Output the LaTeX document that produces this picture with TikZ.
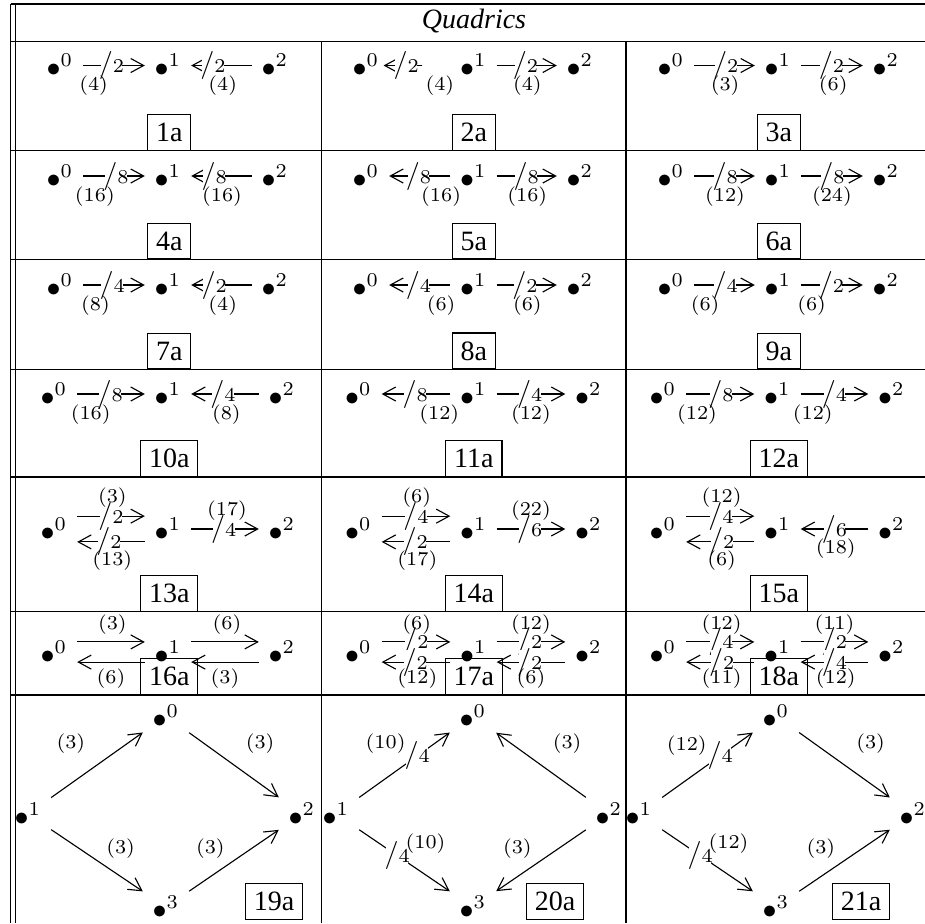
\documentclass[tikz,border=0pt]{standalone}
\usepackage[no-math]{fontspec}
\setmainfont{Liberation Serif}
\usetikzlibrary{arrows.meta}
\newcommand{\slsh}[1]{$/{\scriptstyle #1}$}
\tikzset{
  vtx/.style={inner sep=.3333em},
  arr/.style={-{Straight Barb[length=4.6pt,width=5pt]}},
  brk/.style={fill=white,inner sep=-.6pt},
  lab/.style={font=\scriptsize,inner sep=0pt},
  dlab/.style={font=\scriptsize,inner sep=4pt,auto,midway},
  tag/.style={draw,inner sep=3pt,anchor=south},
}
\begin{document}
\begin{tikzpicture}[x=0.357pt,y=-0.357pt]
\useasboundingbox (0,0) rectangle (925,923);
% table rules
\foreach \y in {4,41.7,150.7,259.3,369.3,477,611.7,695}
  \draw (10.7,\y) -- (925,\y);
\foreach \x in {10.7,15.3}
  \draw (\x,4) -- (\x,923);
\foreach \x in {321.7,626}
  \draw (\x,41.7) -- (\x,923);
\node[anchor=base] (title) at (474,28.3) {\textit{Quadrics}};
% case tags
\foreach \t/\x/\y in {1a/169.3/150.7,2a/473.9/150.7,3a/778.8/150.7,
    4a/169.3/259.3,5a/473.9/259.3,6a/778.8/259.3,
    7a/169.3/369.3,8a/473.9/369.3,9a/778.8/369.3,
    10a/169.3/477,11a/473.9/477,12a/778.8/477,
    13a/169.3/611.7,14a/473.9/611.7,15a/778.8/611.7,
    16a/169.3/695,17a/473.9/695,18a/778.8/695,
    19a/274/920,20a/555/920,21a/861/920}
  \node[tag] (t\t) at (\x,\y) {\t};

% row 1
\node[vtx] (q1n0) at (60,65.5) {$\bullet^{0}$};
\node[vtx] (q1n1) at (168,65.5) {$\bullet^{1}$};
\node[vtx] (q1n2) at (275,65.5) {$\bullet^{2}$};
\draw[arr] (q1n0) -- (q1n1) node[brk,pos=.46]{\slsh{2}} node[lab,below=3.6pt,pos=.17]{$(4)$};
\draw[arr] (q1n2) -- (q1n1) node[brk,pos=.64]{\slsh{2}} node[lab,below=3.6pt,pos=.48]{$(4)$};
\node[vtx] (q2n0) at (366,65.5) {$\bullet^{0}$};
\node[vtx] (q2n1) at (473.5,65.5) {$\bullet^{1}$};
\node[vtx] (q2n2) at (580,65.5) {$\bullet^{2}$};
\draw[arr,shorten <=10pt,shorten >=-2pt] (q2n1) -- (q2n0) node[brk,pos=.72]{\slsh{2}} node[lab,below=3.6pt,pos=.17]{$(4)$};
\draw[arr] (q2n1) -- (q2n2) node[brk,pos=.48]{\slsh{2}} node[lab,below=3.6pt,pos=.51]{$(4)$};
\node[vtx] (q3n0) at (671,65.5) {$\bullet^{0}$};
\node[vtx] (q3n1) at (778,65.5) {$\bullet^{1}$};
\node[vtx] (q3n2) at (886,65.5) {$\bullet^{2}$};
\draw[arr] (q3n0) -- (q3n1) node[brk,pos=.52]{\slsh{2}} node[lab,below=3.6pt,pos=.51]{$(3)$};
\draw[arr] (q3n1) -- (q3n2) node[brk,pos=.49]{\slsh{2}} node[lab,below=3.6pt,pos=.52]{$(6)$};

% row 2
\node[vtx] (q4n0) at (60,176) {$\bullet^{0}$};
\node[vtx] (q4n1) at (168,176) {$\bullet^{1}$};
\node[vtx] (q4n2) at (275,176) {$\bullet^{2}$};
\draw[arr] (q4n0) -- (q4n1) node[brk,pos=.53]{\slsh{8}} node[lab,below=3.6pt,pos=.19]{$(16)$};
\draw[arr] (q4n2) -- (q4n1) node[brk,pos=.62]{\slsh{8}} node[lab,below=3.6pt,pos=.49]{$(16)$};
\node[vtx] (q5n0) at (366,176) {$\bullet^{0}$};
\node[vtx] (q5n1) at (473.5,176) {$\bullet^{1}$};
\node[vtx] (q5n2) at (580,176) {$\bullet^{2}$};
\draw[arr] (q5n1) -- (q5n0) node[brk,pos=.52]{\slsh{8}} node[lab,below=3.6pt,pos=.15]{$(16)$};
\draw[arr] (q5n1) -- (q5n2) node[brk,pos=.49]{\slsh{8}} node[lab,below=3.6pt,pos=.51]{$(16)$};
\node[vtx] (q6n0) at (671,176) {$\bullet^{0}$};
\node[vtx] (q6n1) at (778,176) {$\bullet^{1}$};
\node[vtx] (q6n2) at (886,176) {$\bullet^{2}$};
\draw[arr] (q6n0) -- (q6n1) node[brk,pos=.51]{\slsh{8}} node[lab,below=3.6pt,pos=.51]{$(12)$};
\draw[arr] (q6n1) -- (q6n2) node[brk,pos=.50]{\slsh{8}} node[lab,below=3.6pt,pos=.50]{$(24)$};

% row 3
\node[vtx] (q7n0) at (60,285) {$\bullet^{0}$};
\node[vtx] (q7n1) at (168,285) {$\bullet^{1}$};
\node[vtx] (q7n2) at (275,285) {$\bullet^{2}$};
\draw[arr] (q7n0) -- (q7n1) node[brk,pos=.47]{\slsh{4}} node[lab,below=3.6pt,pos=.2]{$(8)$};
\draw[arr] (q7n2) -- (q7n1) node[brk,pos=.62]{\slsh{2}} node[lab,below=3.6pt,pos=.48]{$(4)$};
\node[vtx] (q8n0) at (366,285) {$\bullet^{0}$};
\node[vtx] (q8n1) at (473.5,285) {$\bullet^{1}$};
\node[vtx] (q8n2) at (580,285) {$\bullet^{2}$};
\draw[arr] (q8n1) -- (q8n0) node[brk,pos=.52]{\slsh{4}} node[lab,below=3.6pt,pos=.15]{$(6)$};
\draw[arr] (q8n1) -- (q8n2) node[brk,pos=.47]{\slsh{2}} node[lab,below=3.6pt,pos=.51]{$(6)$};
\node[vtx] (q9n0) at (671,285) {$\bullet^{0}$};
\node[vtx] (q9n1) at (778,285) {$\bullet^{1}$};
\node[vtx] (q9n2) at (886,285) {$\bullet^{2}$};
\draw[arr] (q9n0) -- (q9n1) node[brk,pos=.51]{\slsh{4}} node[lab,below=3.6pt,pos=.18]{$(6)$};
\draw[arr] (q9n1) -- (q9n2) node[brk,pos=.49]{\slsh{2}} node[lab,below=3.6pt,pos=.17]{$(6)$};

% row 4
\node[vtx] (q10n0) at (54,394) {$\bullet^{0}$};
\node[vtx] (q10n1) at (168,394) {$\bullet^{1}$};
\node[vtx] (q10n2) at (282,394) {$\bullet^{2}$};
\draw[arr] (q10n0) -- (q10n1) node[brk,pos=.49]{\slsh{8}} node[lab,below=3.6pt,pos=.2]{$(16)$};
\draw[arr] (q10n2) -- (q10n1) node[brk,pos=.53]{\slsh{4}} node[lab,below=3.6pt,pos=.48]{$(8)$};
\node[vtx] (q11n0) at (358.5,394) {$\bullet^{0}$};
\node[vtx] (q11n1) at (473.5,394) {$\bullet^{1}$};
\node[vtx] (q11n2) at (588.5,394) {$\bullet^{2}$};
\draw[arr] (q11n1) -- (q11n0) node[brk,pos=.51]{\slsh{8}} node[lab,below=3.6pt,pos=.16]{$(12)$};
\draw[arr] (q11n1) -- (q11n2) node[brk,pos=.48]{\slsh{4}} node[lab,below=3.6pt,pos=.5]{$(12)$};
\node[vtx] (q12n0) at (663,394) {$\bullet^{0}$};
\node[vtx] (q12n1) at (777.5,394) {$\bullet^{1}$};
\node[vtx] (q12n2) at (891.5,394) {$\bullet^{2}$};
\draw[arr] (q12n0) -- (q12n1) node[brk,pos=.51]{\slsh{8}} node[lab,below=3.6pt,pos=.16]{$(12)$};
\draw[arr] (q12n1) -- (q12n2) node[brk,pos=.50]{\slsh{4}} node[lab,below=3.6pt,pos=.18]{$(12)$};

% row 5
\node[vtx] (q13n0) at (54,529) {$\bullet^{0}$};
\node[vtx] (q13n1) at (168,529) {$\bullet^{1}$};
\node[vtx] (q13n2) at (282,529) {$\bullet^{2}$};
\draw[arr] ([yshift=4.6pt]q13n0.east) -- ([yshift=4.6pt]q13n1.west) node[brk,pos=.5]{\slsh{2}} node[lab,above=2.9pt,pos=.52]{$(3)$};
\draw[arr] ([yshift=-4.6pt]q13n1.west) -- ([yshift=-4.6pt]q13n0.east) node[brk,pos=.53]{\slsh{2}} node[lab,below=3pt,pos=.48]{$(13)$};
\draw[arr] (q13n1) -- (q13n2) node[brk,pos=.48]{\slsh{4}} node[lab,above=2.9pt,pos=.53]{$(17)$};
\node[vtx] (q14n0) at (358.5,529) {$\bullet^{0}$};
\node[vtx] (q14n1) at (473.5,529) {$\bullet^{1}$};
\node[vtx] (q14n2) at (588.5,529) {$\bullet^{2}$};
\draw[arr] ([yshift=4.6pt]q14n0.east) -- ([yshift=4.6pt]q14n1.west) node[brk,pos=.5]{\slsh{4}} node[lab,above=2.9pt,pos=.51]{$(6)$};
\draw[arr] ([yshift=-4.6pt]q14n1.west) -- ([yshift=-4.6pt]q14n0.east) node[brk,pos=.51]{\slsh{2}} node[lab,below=3pt,pos=.48]{$(17)$};
\draw[arr] (q14n1) -- (q14n2) node[brk,pos=.48]{\slsh{6}} node[lab,above=2.9pt,pos=.5]{$(22)$};
\node[vtx] (q15n0) at (663,529) {$\bullet^{0}$};
\node[vtx] (q15n1) at (777.5,529) {$\bullet^{1}$};
\node[vtx] (q15n2) at (891.5,529) {$\bullet^{2}$};
\draw[arr] ([yshift=4.6pt]q15n0.east) -- ([yshift=4.6pt]q15n1.west) node[brk,pos=.51]{\slsh{4}} node[lab,above=2.9pt,pos=.52]{$(12)$};
\draw[arr] ([yshift=-4.6pt]q15n1.west) -- ([yshift=-4.6pt]q15n0.east) node[brk,pos=.48]{\slsh{2}} node[lab,below=3pt,pos=.48]{$(6)$};
\draw[arr] (q15n2) -- (q15n1) node[brk,pos=.5]{\slsh{6}} node[lab,below=3.3pt,pos=.48]{$(18)$};

% row 6
\node[vtx] (q16n0) at (54,652) {$\bullet^{0}$};
\node[vtx] (q16n1) at (168,652) {$\bullet^{1}$};
\node[vtx] (q16n2) at (282,652) {$\bullet^{2}$};
\draw[arr] ([yshift=3.6pt]q16n0.east) -- ([yshift=3.6pt]q16n1.west) node[lab,above=2.5pt,pos=.52]{$(3)$};
\draw[arr] ([yshift=-3.6pt]q16n1.west) -- ([yshift=-3.6pt]q16n0.east) node[lab,below=2.3pt,pos=.5]{$(6)$};
\draw[arr] ([yshift=3.6pt]q16n1.east) -- ([yshift=3.6pt]q16n2.west) node[lab,above=2.5pt,pos=.53]{$(6)$};
\draw[arr] ([yshift=-3.6pt]q16n2.west) -- ([yshift=-3.6pt]q16n1.east) node[lab,below=2.3pt,pos=.5]{$(3)$};
\node[vtx] (q17n0) at (358.5,652) {$\bullet^{0}$};
\node[vtx] (q17n1) at (473.5,652) {$\bullet^{1}$};
\node[vtx] (q17n2) at (588.5,652) {$\bullet^{2}$};
\draw[arr] ([yshift=3.6pt]q17n0.east) -- ([yshift=3.6pt]q17n1.west) node[brk,pos=.5]{\slsh{2}} node[lab,above=2.5pt,pos=.51]{$(6)$};
\draw[arr] ([yshift=-3.6pt]q17n1.west) -- ([yshift=-3.6pt]q17n0.east) node[brk,pos=.51]{\slsh{2}} node[lab,below=2.3pt,pos=.48]{$(12)$};
\draw[arr] ([yshift=3.6pt]q17n1.east) -- ([yshift=3.6pt]q17n2.west) node[brk,pos=.48]{\slsh{2}} node[lab,above=2.5pt,pos=.5]{$(12)$};
\draw[arr] ([yshift=-3.6pt]q17n2.west) -- ([yshift=-3.6pt]q17n1.east) node[brk,pos=.52]{\slsh{2}} node[lab,below=2.3pt,pos=.5]{$(6)$};
\node[vtx] (q18n0) at (663,652) {$\bullet^{0}$};
\node[vtx] (q18n1) at (777.5,652) {$\bullet^{1}$};
\node[vtx] (q18n2) at (891.5,652) {$\bullet^{2}$};
\draw[arr] ([yshift=3.6pt]q18n0.east) -- ([yshift=3.6pt]q18n1.west) node[brk,pos=.51]{\slsh{4}} node[lab,above=2.5pt,pos=.52]{$(12)$};
\draw[arr] ([yshift=-3.6pt]q18n1.west) -- ([yshift=-3.6pt]q18n0.east) node[brk,pos=.48]{\slsh{2}} node[lab,below=2.3pt,pos=.48]{$(11)$};
\draw[arr] ([yshift=3.6pt]q18n1.east) -- ([yshift=3.6pt]q18n2.west) node[brk,pos=.5]{\slsh{2}} node[lab,above=2.5pt,pos=.5]{$(11)$};
\draw[arr] ([yshift=-3.6pt]q18n2.west) -- ([yshift=-3.6pt]q18n1.east) node[brk,pos=.5]{\slsh{4}} node[lab,below=2.3pt,pos=.48]{$(12)$};

% row 7
\node[vtx] (q19n0) at (166,716) {$\bullet^{0}$};
\node[vtx] (q19n1) at (28,814) {$\bullet^{1}$};
\node[vtx] (q19n2) at (302,814) {$\bullet^{2}$};
\node[vtx] (q19n3) at (166,907) {$\bullet^{3}$};
\draw[arr] (q19n1) -- (q19n0) node[dlab]{$(3)$};
\draw[arr] (q19n0) -- (q19n2) node[dlab]{$(3)$};
\draw[arr] (q19n1) -- (q19n3) node[dlab,inner sep=1.5pt,pos=.55]{$(3)$};
\draw[arr] (q19n3) -- (q19n2) node[dlab,inner sep=1.5pt,pos=.45]{$(3)$};
\node[vtx] (q20n0) at (473,716) {$\bullet^{0}$};
\node[vtx] (q20n1) at (336,814) {$\bullet^{1}$};
\node[vtx] (q20n2) at (609,814) {$\bullet^{2}$};
\node[vtx] (q20n3) at (473,907) {$\bullet^{3}$};
\draw[arr] (q20n1) -- (q20n0) node[brk,pos=.64]{\slsh{4}} node[dlab,inner sep=2pt,pos=.58]{$(10)$};
\draw[arr] (q20n2) -- (q20n0) node[dlab,swap]{$(3)$};
\draw[arr] (q20n1) -- (q20n3) node[brk,pos=.42]{\slsh{4}} node[dlab,inner sep=1.5pt,pos=.46]{$(10)$};
\draw[arr] (q20n2) -- (q20n3) node[dlab,swap,inner sep=1.5pt,pos=.55]{$(3)$};
\node[vtx] (q21n0) at (776,716) {$\bullet^{0}$};
\node[vtx] (q21n1) at (639,814) {$\bullet^{1}$};
\node[vtx] (q21n2) at (913,814) {$\bullet^{2}$};
\node[vtx] (q21n3) at (776,907) {$\bullet^{3}$};
\draw[arr] (q21n1) -- (q21n0) node[brk,pos=.64]{\slsh{4}} node[dlab,inner sep=2pt,pos=.56]{$(12)$};
\draw[arr] (q21n0) -- (q21n2) node[dlab]{$(3)$};
\draw[arr] (q21n1) -- (q21n3) node[brk,pos=.42]{\slsh{4}} node[dlab,inner sep=1.5pt,pos=.46]{$(12)$};
\draw[arr] (q21n3) -- (q21n2) node[dlab,inner sep=1.5pt,pos=.45]{$(3)$};
\end{tikzpicture}
\end{document}
